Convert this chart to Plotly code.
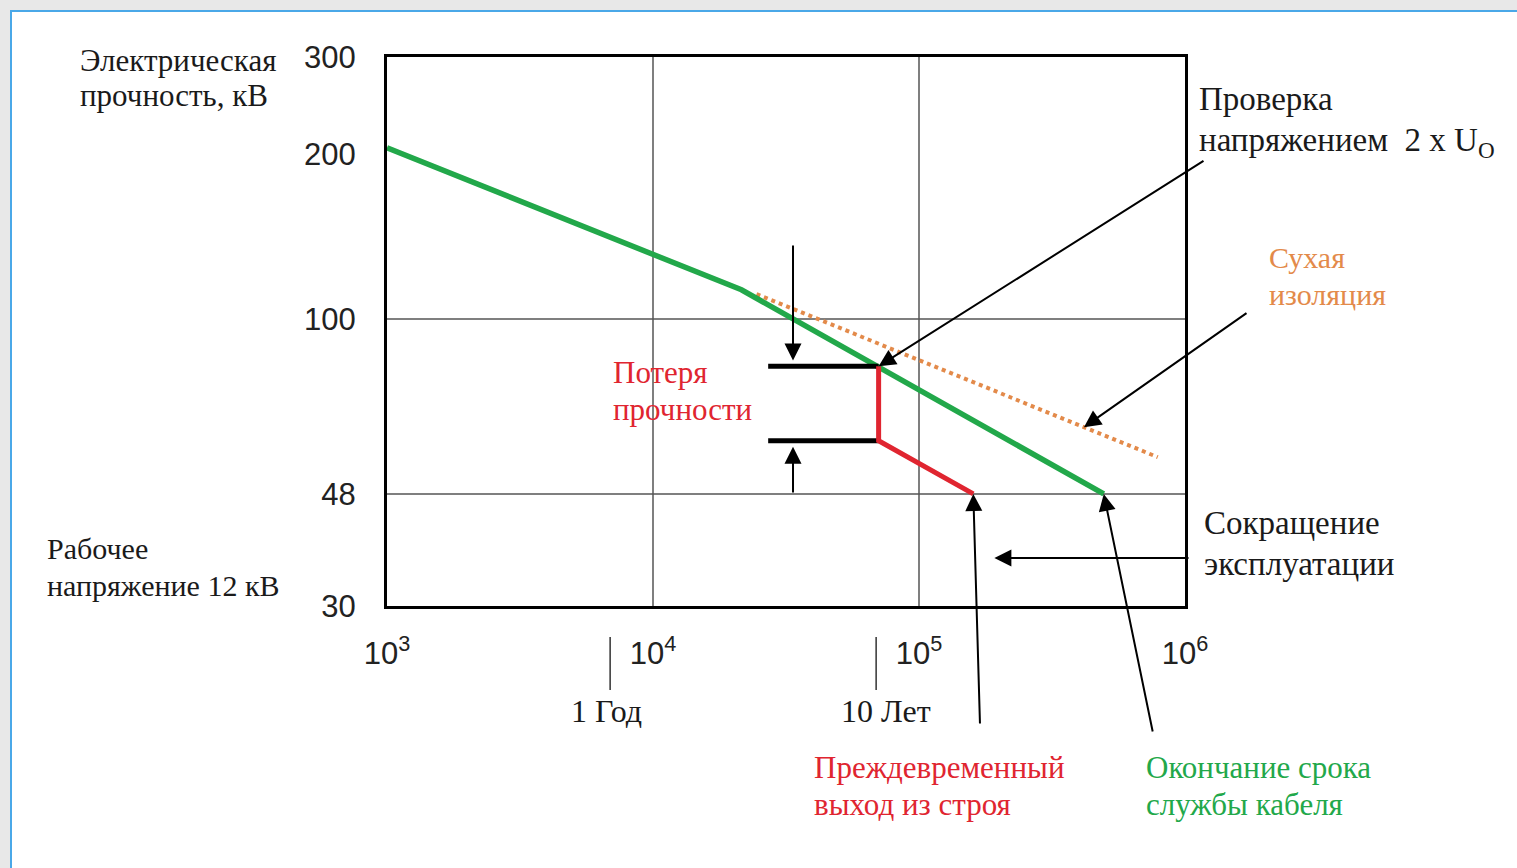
import numpy as np
import plotly.graph_objects as go

# ---------------- data ----------------
GREEN_X = [1000, 21500, 495000]          # end-of-life curve, hours
GREEN_Y = [205, 113, 48]                 # kV
RED_X = [70500, 70500, 160000]           # premature failure path
RED_Y = [82, 60, 48]
LOSS_TOP_X = [27100, 70500]
LOSS_TOP_Y = [82, 82]
LOSS_BOT_X = [27100, 70500]
LOSS_BOT_Y = [60, 60]
DRY_X = [24500, 790000]                  # dry insulation (dotted)
DRY_Y = [111, 56]

X_TICKS = [1e3, 1e4, 1e5, 1e6]
X_TICK_TEXT = ["10<sup>3</sup>", "10<sup>4</sup>", "10<sup>5</sup>", "10<sup>6</sup>"]
Y_TICKS = [30, 48, 100, 200, 300]
Y_TICK_TEXT = ["30", "48", "100", "200", "300"]
GRID_X = [1e4, 1e5]
GRID_Y = [48, 100]
TIME_MARKS = [6900, 69000]
TIME_LABELS = ["1 Год", "10 Лет"]

# ---------------- layout geometry ----------------
W, H = 1517, 868
L, R, T, B = 387, 1185, 57, 606
PW, PH = R - L, B - T
X_RANGE = [3, 6]
Y_RANGE = [np.log10(30), np.log10(300)]


def px_x(px):
    return (px - L) / PW


def px_y(py):
    return (B - py) / PH


def data_px_x(v):
    return L + PW * (np.log10(v) - X_RANGE[0]) / (X_RANGE[1] - X_RANGE[0])


def data_px_y(v):
    return B - PH * (np.log10(v) - Y_RANGE[0]) / (Y_RANGE[1] - Y_RANGE[0])


SERIF = "Liberation Serif, Times New Roman, serif"
SANS = "Liberation Sans, Arial, sans-serif"
DARK = "#1a1a1a"
GREEN = "#22a84a"
RED = "#e02530"
ORANGE = "#e38a4a"

fig = go.Figure()

fig.add_trace(go.Scatter(x=DRY_X, y=DRY_Y, mode="lines",
                         line=dict(color=ORANGE, width=4, dash="dot"), hoverinfo="skip"))
fig.add_trace(go.Scatter(x=GREEN_X, y=GREEN_Y, mode="lines",
                         line=dict(color=GREEN, width=5.5), hoverinfo="skip"))
fig.add_trace(go.Scatter(x=LOSS_TOP_X, y=LOSS_TOP_Y, mode="lines",
                         line=dict(color="black", width=5), hoverinfo="skip"))
fig.add_trace(go.Scatter(x=LOSS_BOT_X, y=LOSS_BOT_Y, mode="lines",
                         line=dict(color="black", width=5), hoverinfo="skip"))
fig.add_trace(go.Scatter(x=RED_X, y=RED_Y, mode="lines",
                         line=dict(color=RED, width=5), hoverinfo="skip"))

shapes = []
# page background frame
shapes.append(dict(type="rect", xref="paper", yref="paper", layer="below",
                   x0=px_x(11), x1=px_x(W + 20), y0=px_y(H + 20), y1=px_y(11),
                   fillcolor="white", line=dict(color="#4aa8e8", width=2)))
# grid lines (shape positions on log axes are given in data units here)
for gx in GRID_X:
    shapes.append(dict(type="line", xref="x", yref="paper", layer="below",
                       x0=gx, x1=gx, y0=0, y1=1,
                       line=dict(color="#555555", width=1.5)))
for gy in GRID_Y:
    shapes.append(dict(type="line", xref="paper", yref="y", layer="below",
                       x0=0, x1=1, y0=gy, y1=gy,
                       line=dict(color="#555555", width=1.5)))
# time marks below the axis
for tm in TIME_MARKS:
    shapes.append(dict(type="line", xref="x", yref="paper",
                       x0=tm, x1=tm, y0=px_y(637), y1=px_y(690),
                       line=dict(color="#333333", width=1.5)))

annotations = []


def text_lines(lines, left_px, centers_px, color=DARK, size=30):
    for txt, cy in zip(lines, centers_px):
        annotations.append(dict(text=txt, xref="paper", yref="paper",
                                x=px_x(left_px), y=px_y(cy), xanchor="left", yanchor="middle",
                                align="left", showarrow=False, borderpad=0,
                                font=dict(family=SERIF, size=size, color=color)))


text_lines(["Электрическая", "прочность, кВ"], 79, [60, 96], size=31)
text_lines(["Рабочее", "напряжение 12 кВ"], 46, [548, 585], size=30)
text_lines(["Проверка", "напряжением  2 x U<sub>O</sub>"], 1198, [99, 142], size=33)
text_lines(["Сухая", "изоляция"], 1268, [257, 294], color=ORANGE, size=30)
text_lines(["Потеря", "прочности"], 612, [372, 409], color=RED, size=31)
text_lines(["Сокращение", "эксплуатации"], 1203, [523, 564], size=33)
text_lines(["Преждевременный", "выход из строя"], 813, [768, 805], color=RED, size=31)
text_lines(["Окончание срока", "службы кабеля"], 1145, [768, 805], color=GREEN, size=31)

for tm, lab, shift in zip(TIME_MARKS, TIME_LABELS, [-4, 10]):
    annotations.append(dict(text=lab, xref="x", yref="paper", x=np.log10(tm), y=px_y(711),
                            xanchor="center", yanchor="middle", xshift=shift, showarrow=False,
                            font=dict(family=SERIF, size=32, color=DARK)))

ARROW = dict(showarrow=True, text="", arrowhead=2, arrowsize=1.7, arrowwidth=2,
             arrowcolor="black", standoff=0)


def arrow_data(hx, hy, tx, ty):
    annotations.append(dict(x=np.log10(hx), y=np.log10(hy), xref="x", yref="y",
                            ax=np.log10(tx), ay=np.log10(ty), axref="x", ayref="y", **ARROW))


def arrow_px(hx, hy, tail_px_x, tail_px_y=None):
    hy_px = data_px_y(hy)
    ty = hy_px if tail_px_y is None else tail_px_y
    annotations.append(dict(x=np.log10(hx), y=np.log10(hy), xref="x", yref="y",
                            ax=tail_px_x - data_px_x(hx), ay=ty - hy_px, **ARROW))


arrow_data(33600, 84, 33600, 137)   # strength loss, down arrow
arrow_data(33600, 58.5, 33600, 48)  # strength loss, up arrow
arrow_px(70500, 82, 1205, 160)      # voltage test
arrow_px(417000, 63.5, 1248, 312)   # dry insulation
arrow_px(192000, 36.7, 1190)        # reduced operation (horizontal)
arrow_px(160000, 48, 980, 725)      # premature failure
arrow_px(495000, 48, 1153, 733)     # end of life

fig.update_layout(
    width=W, height=H,
    margin=dict(l=L, r=W - R, t=T, b=H - B, pad=0),
    paper_bgcolor="#e8e8e8", plot_bgcolor="white",
    showlegend=False,
    shapes=shapes, annotations=annotations,
    xaxis=dict(type="log", range=X_RANGE, tickvals=X_TICKS, ticktext=X_TICK_TEXT,
               showgrid=False, zeroline=False, showline=True, mirror=True,
               linecolor="black", linewidth=3, ticks="", ticklabelstandoff=18,
               tickfont=dict(family=SANS, size=31, color="#222222")),
    yaxis=dict(type="log", range=Y_RANGE, tickvals=Y_TICKS, ticktext=Y_TICK_TEXT,
               showgrid=False, zeroline=False, showline=True, mirror=True,
               linecolor="black", linewidth=3, ticks="", ticklabelstandoff=22,
               tickfont=dict(family=SANS, size=31, color="#222222")),
)

fig.write_html("out.html", config={"displayModeBar": False},
               post_script="document.body.style.margin='0';")
